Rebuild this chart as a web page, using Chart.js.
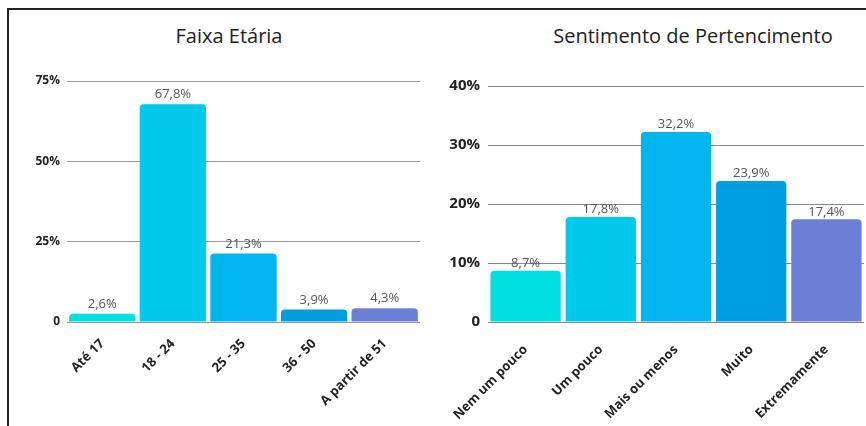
<!DOCTYPE html>
<html>
<head>
<meta charset="utf-8">
<script src="https://cdn.jsdelivr.net/npm/chart.js@4"></script>
<style>
  html, body { margin: 0; padding: 0; background: #fff; }
  body { width: 866px; height: 426px; position: relative; overflow: hidden; font-family: "Open Sans", sans-serif; }
  .frame { position: absolute; left: 7px; top: 8px; width: 870px; height: 430px; border-left: 2px solid #222; border-top: 2px solid #222; }
  .title { position: absolute; top: 22px; font-size: 20px; color: #222; white-space: nowrap; transform: translateX(-50%); }
  #wrapAge { position: absolute; left: 8px; top: 10px; width: 422px; height: 416px; }
  #wrapBelong { position: absolute; left: 433px; top: 10px; width: 433px; height: 416px; }
</style>
</head>
<body>
<div class="frame"></div>
<div class="title" style="left:229px">Faixa Etária</div>
<div class="title" style="left:693px">Sentimento de Pertencimento</div>
<div id="wrapAge"><canvas id="ageChart"></canvas></div>
<div id="wrapBelong"><canvas id="belongChart"></canvas></div>
<script>
const ageLabels = ["Até 17", "18 - 24", "25 - 35", "36 - 50", "A partir de 51"];
const ageValues = [2.6, 67.8, 21.3, 3.9, 4.3];
const ageTicks = [0, 25, 50, 75];

const belongLabels = ["Nem um pouco", "Um pouco", "Mais ou menos", "Muito", "Extremamente"];
const belongValues = [8.7, 17.8, 32.2, 23.9, 17.4];
const belongTicks = [0, 10, 20, 30, 40];

const barColors = ["#00dfe2", "#00caeb", "#00b6ec", "#009ee3", "#6a7fd6"];

function fmtPct(v) {
    return v.toFixed(1).replace(".", ",") + "%";
}

// draws the value above each bar
const valueLabels = {
    id: "valueLabels",
    afterDatasetsDraw(chart, args, opts) {
        const ctx = chart.ctx;
        const meta = chart.getDatasetMeta(0);
        const data = chart.data.datasets[0].data;
        ctx.save();
        ctx.font = opts.size + "px 'Open Sans'";
        ctx.fillStyle = "#555";
        ctx.textAlign = "center";
        ctx.textBaseline = "bottom";
        meta.data.forEach((bar, i) => {
            ctx.fillText(fmtPct(data[i]), bar.x, bar.y - opts.gap);
        });
        ctx.restore();
    },
};

function makeChart(id, labels, values, ticks, cfg) {
    return new Chart(document.getElementById(id), {
        type: "bar",
        data: {
            labels,
            datasets: [{
                data: values,
                backgroundColor: barColors,
                borderRadius: { topLeft: 4, topRight: 4, bottomLeft: 0, bottomRight: 0 },
                borderSkipped: "bottom",
                barPercentage: cfg.barPct,
                categoryPercentage: 1,
            }],
        },
        options: {
            responsive: true,
            maintainAspectRatio: false,
            animation: false,
            layout: { padding: { top: cfg.top, right: cfg.right, left: 0, bottom: 0 } },
            plugins: {
                legend: { display: false },
                tooltip: { enabled: false },
                valueLabels: { size: cfg.valueSize, gap: cfg.valueGap },
            },
            scales: {
                x: {
                    grid: { display: false, drawTicks: false },
                    border: { display: false },
                    ticks: {
                        autoSkip: false,
                        minRotation: 45,
                        maxRotation: 45,
                        padding: cfg.xPad,
                        color: "#222",
                        font: { family: "Open Sans", size: cfg.xSize, weight: "bold" },
                    },
                    afterFit(scale) {
                        scale.height = 104;
                        // rotated labels may hang past the y axis, keep the plot where it is
                        scale.paddingLeft = 0;
                        scale.paddingRight = 0;
                    },
                },
                y: {
                    min: 0,
                    max: ticks[ticks.length - 1],
                    afterBuildTicks(scale) { scale.ticks = ticks.map((v) => ({ value: v })); },
                    grid: { color: cfg.gridColor, lineWidth: 1, drawTicks: false },
                    border: { display: false },
                    ticks: {
                        padding: cfg.yPad,
                        color: "#222",
                        font: { family: "Open Sans", size: cfg.ySize, weight: "bold" },
                        callback: (v) => (v === 0 ? "0" : v + "%"),
                    },
                    afterFit(scale) { scale.width = cfg.yWidth; },
                },
            },
        },
        plugins: [valueLabels],
    });
}

makeChart("ageChart", ageLabels, ageValues, ageTicks, {
    barPct: 0.94, top: 71, right: 10, yWidth: 59, yPad: 7, ySize: 12, xSize: 13, xPad: 14,
    valueSize: 13, valueGap: 3, gridColor: "#999",
});

makeChart("belongChart", belongLabels, belongValues, belongTicks, {
    barPct: 0.935, top: 76, right: 2, yWidth: 55, yPad: 8, ySize: 15, xSize: 13, xPad: 20,
    valueSize: 13, valueGap: 1, gridColor: "#888",
});
</script>
</body>
</html>
